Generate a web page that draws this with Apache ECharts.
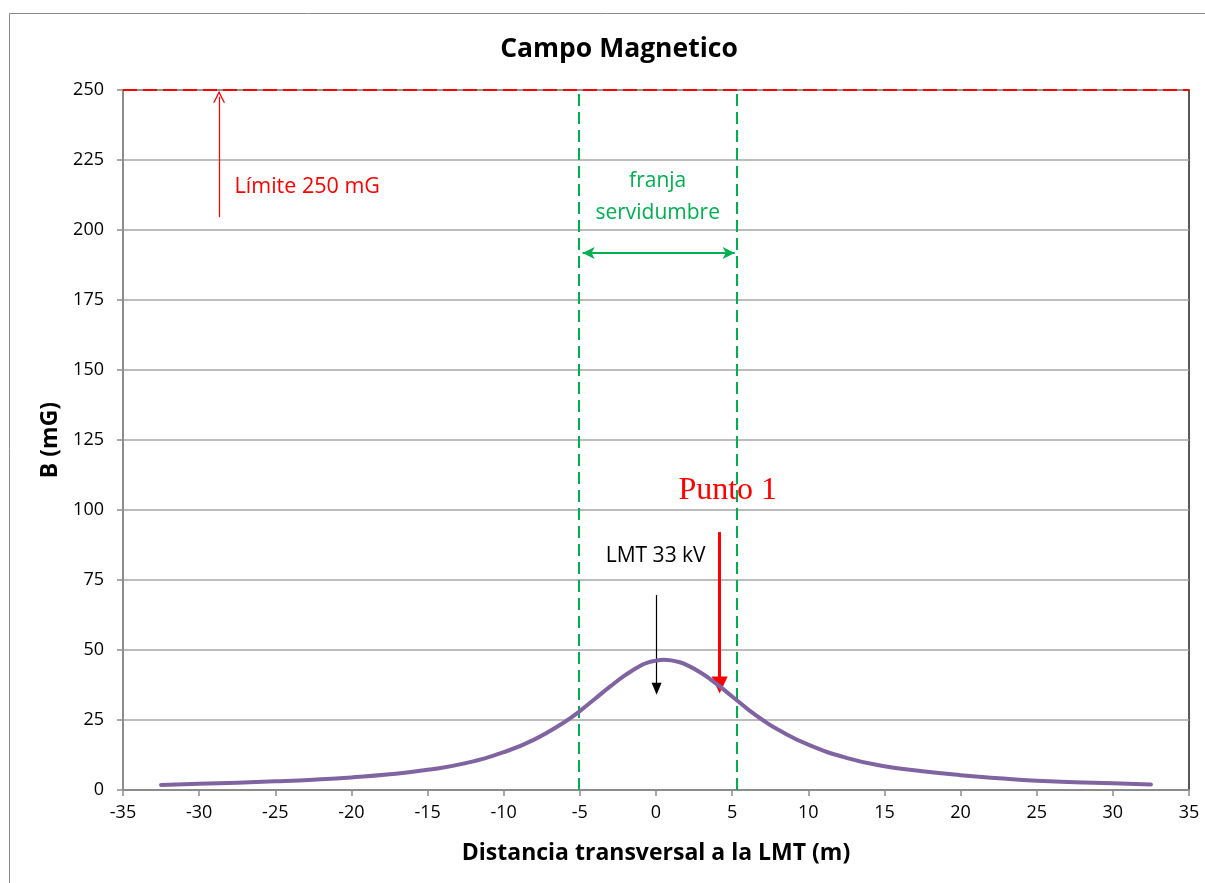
<!DOCTYPE html>
<html><head><meta charset="utf-8">
<script src="https://cdn.jsdelivr.net/npm/echarts@6/dist/echarts.min.js"></script>
<style>html,body{margin:0;padding:0;background:#fff}#c{width:1205px;height:883px}</style>
</head><body><div id="c"></div>
<script>
// Data
const distX = [-32.5,-30,-27.5,-25,-22.5,-20,-17.5,-15,-12.5,-10,-8,-6,-5,-4,-3,-2,-1,-0.5,0,0.5,1,1.5,2,3,4,5,6,7,8,10,12.5,15,17.5,20,22.5,25,27.5,30,32.5];
const fieldB = [1.8,2.2,2.6,3.1,3.7,4.5,5.6,7.2,9.6,13.5,18.0,24.3,28.2,32.6,37.0,41.1,44.5,45.6,46.2,46.5,46.3,45.7,44.7,41.7,37.8,33.4,29.0,25.0,21.6,16.2,11.5,8.5,6.7,5.3,4.2,3.3,2.8,2.4,2.0];
const limitB = 250;
const stripEdges = [-5.05, 5.3];
const xTicks = {min:-35, max:35, step:5};
const yTicks = {min:0, max:250, step:25};
const annotations = [
  {x:-22.9, y:215.4, text:'Límite 250 mG', kind:'limit'},
  {x:0.11, y:211.8, text:'franja\nservidumbre', kind:'strip'},
  {x:4.71, y:107.1, text:'Punto 1', kind:'punto'},
  {x:-0.02, y:83.6, text:'LMT 33 kV', kind:'lmt'}
];
const limitArrow = [[-28.69,204.6],[-28.69,247.6]];
const stripArrow = [[-4.82,191.8],[5.17,191.8]];
const puntoArrow = [[4.18,92.1],[4.18,37.5]];
const lmtArrow = [[0.04,69.6],[0.04,36.2]];

const pts = distX.map((x,i)=>[x,fieldB[i]]);
const labelStyles = {
  limit:{color:'#FF0000', fontSize:21.5, fontFamily:'Open Sans'},
  strip:{color:'#00B050', fontSize:21, fontFamily:'Open Sans', lineHeight:32},
  punto:{color:'#FF0000', fontSize:32, fontFamily:'Liberation Serif'},
  lmt:{color:'#000000', fontSize:21, fontFamily:'Open Sans'}
};
const chart = echarts.init(document.getElementById('c'));
const F = 'Open Sans';
chart.setOption({
  animation:false,
  backgroundColor:'#fff',
  textStyle:{fontFamily:F},
  graphic:[{type:'rect', shape:{x:9.5,y:13.5,width:1400,height:1000}, style:{fill:'none', stroke:'#8a8a8a', lineWidth:1}, silent:true}],
  title:{text:'Campo Magnetico', left:614, top:31, textAlign:'center',
    textStyle:{fontFamily:F, fontSize:26.5, fontWeight:'bold', color:'#000'}},
  grid:{left:123, right:16, top:90, bottom:93, show:true, borderColor:'#222', borderWidth:1.5, backgroundColor:'transparent'},
  xAxis:{type:'value', min:xTicks.min, max:xTicks.max, interval:xTicks.step,
    name:'Distancia transversal a la LMT (m)', nameLocation:'middle', nameGap:52,
    nameTextStyle:{fontFamily:F, fontSize:23, fontWeight:'bold', color:'#000'},
    axisLine:{onZero:false, lineStyle:{color:'#8c8c8c', width:2}},
    axisTick:{show:true, length:6, lineStyle:{color:'#8c8c8c', width:1.5}},
    axisLabel:{fontFamily:F, fontSize:18, color:'#000', margin:14},
    splitLine:{show:false}},
  yAxis:{type:'value', min:yTicks.min, max:yTicks.max, interval:yTicks.step,
    name:'B (mG)', nameLocation:'middle', nameGap:61, nameRotate:90,
    nameTextStyle:{fontFamily:F, fontSize:23, fontWeight:'bold', color:'#000'},
    axisLine:{show:true, onZero:false, lineStyle:{color:'#8c8c8c', width:2}},
    axisTick:{show:true, length:6, lineStyle:{color:'#8c8c8c', width:1.5}},
    axisLabel:{fontFamily:F, fontSize:18, color:'#000', margin:19},
    splitLine:{show:true, lineStyle:{color:'#a6a6a6', width:1.5}}},
  series:[
    {type:'line', data:pts, smooth:0.5, showSymbol:false, symbol:'none', z:5,
      lineStyle:{color:'#8064A2', width:4, cap:'round', join:'round'}},
    {type:'line', data:[], silent:true, z:6,
      markLine:{silent:true, symbol:['none','none'], label:{show:false}, animation:false,
        data:[
          {yAxis:limitB, lineStyle:{color:'#FF0000', width:2, type:[14,6]}},
          {xAxis:stripEdges[0], lineStyle:{color:'#00B050', width:2, type:[12,6]}},
          {xAxis:stripEdges[1], lineStyle:{color:'#00B050', width:2, type:[12,6]}}
        ]}},
    {type:'line', data:[], silent:true, z:7,
      markLine:{silent:true, symbol:['none','path://M0,12 L6,0 L12,12 L10.6,12 L6,3 L1.4,12 Z'], symbolSize:[12,12], label:{show:false}, animation:false,
        data:[[{coord:limitArrow[0]},{coord:limitArrow[1]}]],
        lineStyle:{color:'#FF0000', width:1.2, type:'solid'}}},
    {type:'line', data:[], silent:true, z:7,
      markLine:{silent:true, symbol:['arrow','arrow'], symbolSize:[9,12], label:{show:false}, animation:false,
        data:[[{coord:stripArrow[0]},{coord:stripArrow[1]}]],
        lineStyle:{color:'#00B050', width:2, type:'solid'}}},
    {type:'line', data:[], silent:true, z:7,
      markLine:{silent:true, symbol:['none','triangle'], symbolSize:[16,17], label:{show:false}, animation:false,
        data:[[{coord:puntoArrow[0]},{coord:puntoArrow[1]}]],
        lineStyle:{color:'#FF0000', width:3, type:'solid'}}},
    {type:'line', data:[], silent:true, z:7,
      markLine:{silent:true, symbol:['none','triangle'], symbolSize:[10,12], label:{show:false}, animation:false,
        data:[[{coord:lmtArrow[0]},{coord:lmtArrow[1]}]],
        lineStyle:{color:'#000000', width:1.2, type:'solid'}}},
    {type:'scatter', symbolSize:0, silent:true, z:8, itemStyle:{opacity:1},
      data:annotations.map(a=>({value:[a.x,a.y], itemStyle:{opacity:1}, label:Object.assign({show:true, position:'inside', formatter:a.text, align:'center', verticalAlign:'middle', opacity:1}, labelStyles[a.kind])}))}
  ]
});
</script></body></html>
